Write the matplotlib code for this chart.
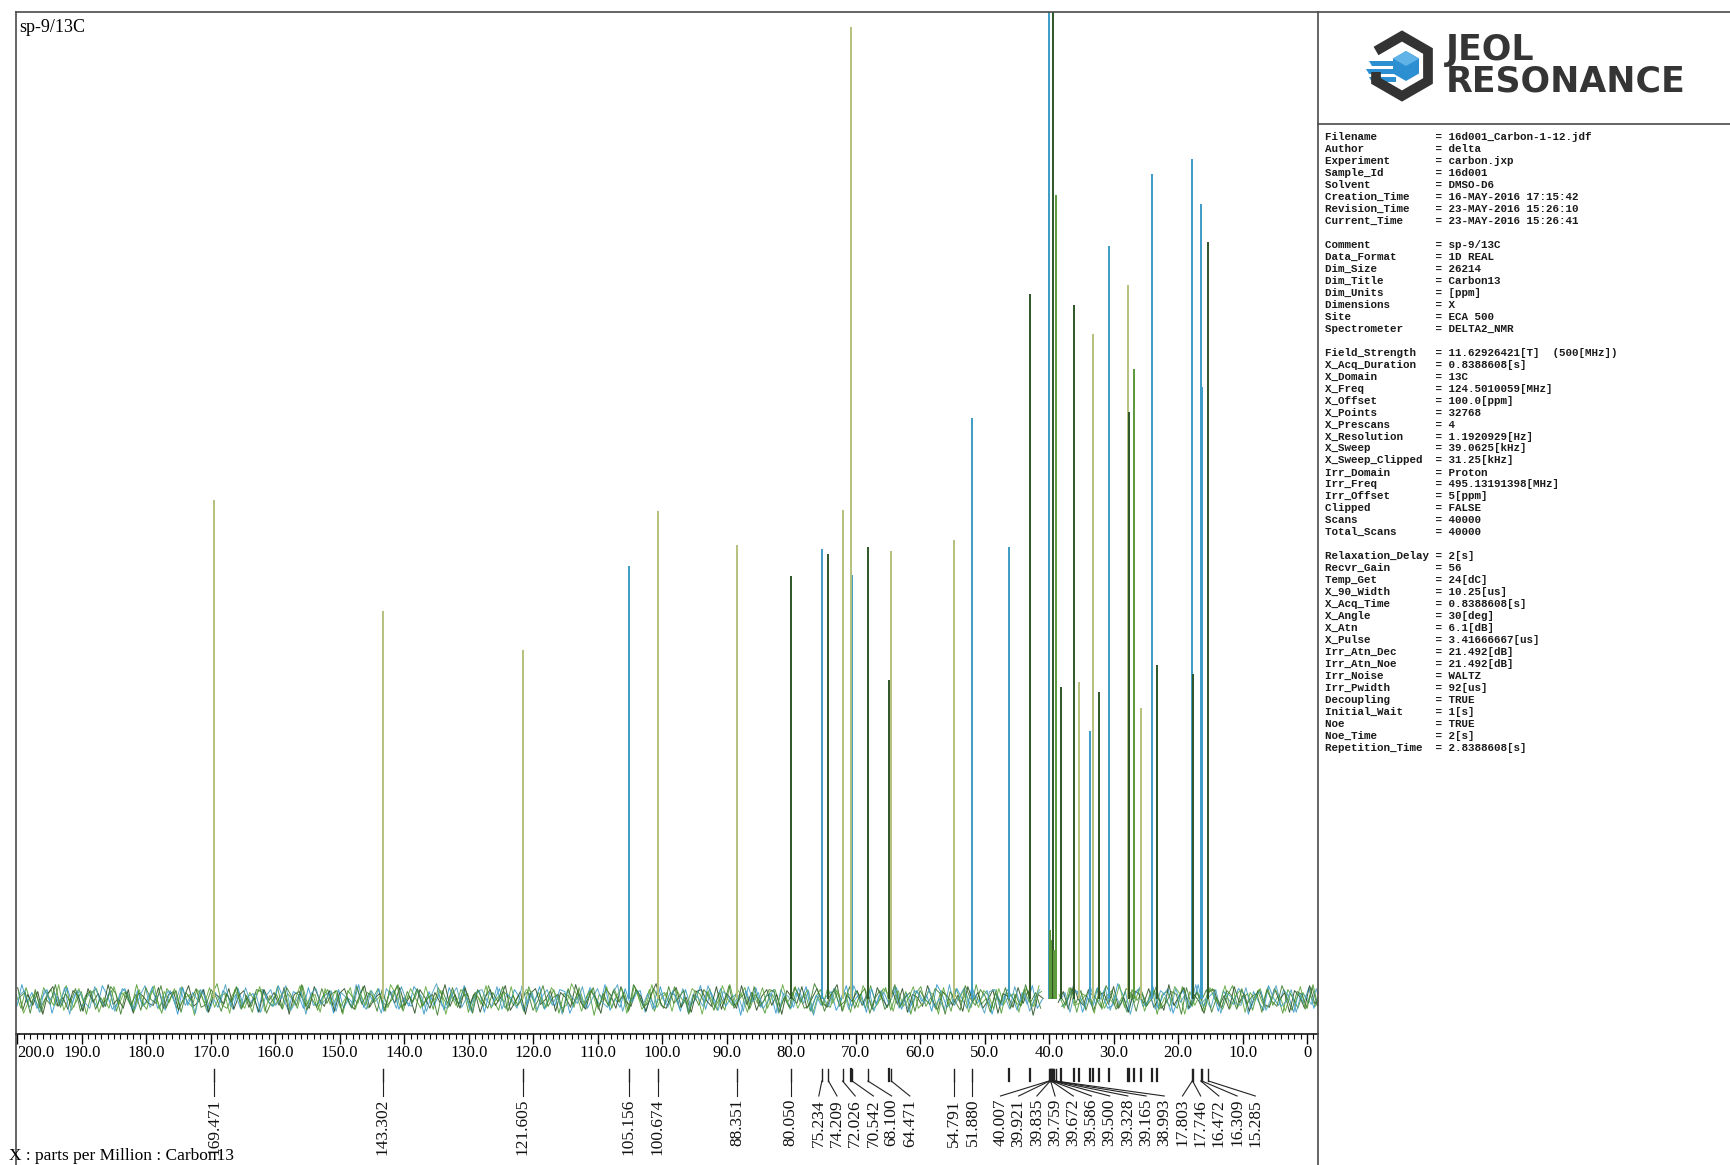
"""JEOL 13C NMR spectrum printout (sp-9/13C, DMSO-D6) redrawn with matplotlib."""

import matplotlib
matplotlib.use('Agg')

import matplotlib.pyplot as plt
import matplotlib.patches as mpatches
from matplotlib.ticker import MultipleLocator
import numpy as np

plt.rcParams['font.family'] = ['Liberation Serif', 'DejaVu Serif']

W, H = 1731, 1165          # output size in pixels (dpi 100)

# --- picked and labelled peaks: ppm, height (fraction of full scale), colour key
LABEL_PPM = [169.471, 143.302, 121.605, 105.156, 100.674, 88.351, 80.050,
             75.234, 74.209, 72.026, 70.542, 68.100, 64.471, 54.791, 51.880,
             40.007, 39.921, 39.835, 39.759, 39.672, 39.586, 39.500, 39.328,
             39.165, 38.993, 17.803, 17.746, 16.472, 16.309, 15.285]
LABEL_HEIGHT = [0.506, 0.393, 0.354, 0.439, 0.495, 0.460, 0.429,
                0.456, 0.451, 0.496, 0.430, 0.458, 0.454, 0.465, 0.589,
                1.300, 0.060, 0.070, 0.050, 0.060, 0.050, 0.060, 1.300,
                0.050, 0.815, 0.851, 0.330, 0.806, 0.620, 0.767]
LABEL_COLOR = 'LLLBLLDBDLBDLLBBGGGGGGDGGBDBBD'

# --- picked peaks shown only by a tick (no number printed)
EXTRA_PPM = [70.70, 64.80, 46.2, 43.0, 38.2, 36.2, 35.3, 33.6, 33.2, 32.2,
             30.7, 27.7, 27.6, 26.8, 25.8, 24.0, 23.2]
EXTRA_HEIGHT = [0.985, 0.323, 0.458, 0.714, 0.316, 0.703, 0.321, 0.272, 0.674,
                0.311, 0.763, 0.724, 0.595, 0.638, 0.295, 0.836, 0.339]
EXTRA_COLOR = 'LDBDDDLBLDBLDGLBD'

# --- baseline noise (thousandths of full scale)
NOISE_MILLI = [
    5, -9, 12, -4, 7, -13, 3, 10, -6, 1, 14, -11, -2, 8, -15, 6, 11, -5, 0, 9,
    -12, 7, 2, -8, 15, -3, -10, 9, 1, -14, 11, 4, -9, 13, -2, -7, 10, 3, -12, 5,
    16, -6, -9, 4, 12, -8, 2, -13, 8, 10, -1, -7, 13, -10, 6, 0, -9, 14, -5, 7,
    -11, 3, 10, -6, 5, -15, 9, 2, -4, 13, -9, 1, 11, -3, -8, 6, 15, -12, 4, -2,
    9, -6, 6, -10, 12, 1, -8, 9, -5, 11, -13, 5, 2, -7, 14, -1, -11, 8, 3, -6,
    4, -12, 13, -2, 7, -9, -1, 10, -14, 6, 3, -8, 12, -4, 9, -16, 5, 1, -7, 11,
    -3, 8, -10, 14, 0, -6, 10, -12, 4, 7, -5, 13, -9, 2, -13, 9, 6, -4, 11, -8,
    1, -11, 15, -6, 3, 12, -9, 5, -2, -14, 8, 10, -7, 4, -10, 13, -3, 6, -12, 2,
    10, -5, -8, 11, -1, 7, -13, 9, 3, -9, 14, -4, 0, 12, -11, 5, -6, 8, -15, 6,
    13, -7, 2, -10, 9, 4, -12, 11, -3, 6, -8, 15, -5, 1, -9, 10, -14, 7, 3, -4,
    -6, 12, -9, 5, 8, -11, 1, 14, -7, -2, 10, -13, 6, 3, -5, 11, -10, 4, 9, -8,
    2, -13, 10, -1, 7, -6, 12, -15, 5, 8, -3, -9, 13, 0, -7, 9, -12, 6, 11, -4,
    -10, 4, 14, -8, 1, 6, -11, 9, -4, 12, -6, 3, -14, 10, 2, -9, 7, -3, 15, -7,
]

XTICKS = list(range(200, -1, -10))
XTICK_LABELS = ['%.1f' % v for v in XTICKS[:-1]] + ['0']

PARAM_KEYS = [
    'Filename', 'Author', 'Experiment', 'Sample_Id', 'Solvent',
    'Creation_Time', 'Revision_Time', 'Current_Time', '',
    'Comment', 'Data_Format', 'Dim_Size', 'Dim_Title', 'Dim_Units',
    'Dimensions', 'Site', 'Spectrometer', '',
    'Field_Strength', 'X_Acq_Duration', 'X_Domain', 'X_Freq', 'X_Offset',
    'X_Points', 'X_Prescans', 'X_Resolution', 'X_Sweep', 'X_Sweep_Clipped',
    'Irr_Domain', 'Irr_Freq', 'Irr_Offset', 'Clipped', 'Scans', 'Total_Scans', '',
    'Relaxation_Delay', 'Recvr_Gain', 'Temp_Get', 'X_90_Width', 'X_Acq_Time',
    'X_Angle', 'X_Atn', 'X_Pulse', 'Irr_Atn_Dec', 'Irr_Atn_Noe', 'Irr_Noise',
    'Irr_Pwidth', 'Decoupling', 'Initial_Wait', 'Noe', 'Noe_Time',
    'Repetition_Time',
]
PARAM_VALUES = [
    '16d001_Carbon-1-12.jdf', 'delta', 'carbon.jxp', '16d001', 'DMSO-D6',
    '16-MAY-2016 17:15:42', '23-MAY-2016 15:26:10', '23-MAY-2016 15:26:41', '',
    'sp-9/13C', '1D REAL', '26214', 'Carbon13', '[ppm]',
    'X', 'ECA 500', 'DELTA2_NMR', '',
    '11.62926421[T]  (500[MHz])', '0.8388608[s]', '13C', '124.5010059[MHz]',
    '100.0[ppm]', '32768', '4', '1.1920929[Hz]', '39.0625[kHz]', '31.25[kHz]',
    'Proton', '495.13191398[MHz]', '5[ppm]', 'FALSE', '40000', '40000', '',
    '2[s]', '56', '24[dC]', '10.25[us]', '0.8388608[s]',
    '30[deg]', '6.1[dB]', '3.41666667[us]', '21.492[dB]', '21.492[dB]', 'WALTZ',
    '92[us]', 'TRUE', '1[s]', 'TRUE', '2[s]',
    '2.8388608[s]',
]

COLORS = {'L': '#b7c07c', 'B': '#3b9cc6', 'D': '#2d5628', 'G': '#5b983a'}
NOISE_COLORS = ['#4f9a36', '#3197cc', '#2a4f24', '#62a83f', '#4aa0c0', '#3f7f2e']
NOISE_ROLLS = [0, 0, 87, 151, 43, 199]
FRAME = '#4a4a4a'


def px_box(x0, y0, x1, y1):
    """Pixel box (top-left origin) -> figure-fraction rect."""
    return [x0 / W, 1 - y1 / H, (x1 - x0) / W, (y1 - y0) / H]


def spread(targets, gap, run_gap):
    """Greedy left-to-right placement, then pull each tight run back
    towards its peaks as far as the previous run allows."""
    s = []
    for t in targets:
        s.append(t if not s else max(t, s[-1] + gap))
    runs = []
    for i in range(len(s)):
        if i > 0 and s[i] - s[i - 1] <= gap + 1e-6:
            runs[-1].append(i)
        else:
            runs.append([i])
    prev_end = -1e9
    for run in runs:
        shift = np.mean([s[i] - targets[i] for i in run])
        room = s[run[0]] - (prev_end + run_gap)
        shift = max(0.0, min(shift, room))
        for i in run:
            s[i] -= shift
        prev_end = s[run[-1]]
    return s


def draw_spectrum(ax):
    ax.set_xlim(200.2, -1.7)
    ax.set_ylim(-0.035, 1.0)

    noise = np.array(NOISE_MILLI, dtype=float) / 1000.0
    xs = np.linspace(200.2, -1.7, len(noise))
    step = xs[0] - xs[1]
    n = len(NOISE_COLORS)
    for k, (roll, col) in enumerate(zip(NOISE_ROLLS, NOISE_COLORS)):
        tr = noise if k % 2 == 0 else noise[::-1]
        x = xs - k * step / n
        y = np.roll(tr, roll)
        y[(x > 38.6) & (x < 40.8)] = np.nan     # broad solvent foot
        ax.plot(x, y, color=col, lw=0.7, alpha=0.9, zorder=1)

    ppm = LABEL_PPM + EXTRA_PPM
    hgt = LABEL_HEIGHT + EXTRA_HEIGHT
    col = [COLORS[c] for c in LABEL_COLOR + EXTRA_COLOR]
    ax.vlines(ppm, 0, hgt, colors=col, lw=1.4, zorder=2)

    for s in ('top', 'left', 'right'):
        ax.spines[s].set_visible(False)
    ax.spines['bottom'].set_linewidth(1.1)
    ax.set_yticks([])
    ax.set_xticks(XTICKS)
    labels = ax.set_xticklabels(XTICK_LABELS)
    labels[0].set_horizontalalignment('left')
    ax.xaxis.set_minor_locator(MultipleLocator(1))
    ax.tick_params(axis='x', which='major', direction='out', length=7,
                   width=1.0, pad=1, labelsize=12)
    ax.tick_params(axis='x', which='minor', direction='out', length=3.5,
                   width=0.8)
    ax.patch.set_alpha(0)


def draw_peak_labels(ax, ov):
    def to_px(v):
        return ax.transData.transform((v, 0))[0]

    lab_px = [to_px(v) for v in LABEL_PPM]
    slots = spread(lab_px, 18.2, 28)
    for p, s, v in zip(lab_px, slots, LABEL_PPM):
        ov.plot([p, p], [1069, 1081], color='#222222', lw=1.0)
        ov.plot([p, s], [1081, 1096], color='#222222', lw=0.8)
        ov.text(s, 1099, '%.3f' % v, rotation=90, ha='center', va='top',
                fontsize=12.5, color='#111111')
    for v in EXTRA_PPM:
        p = to_px(v)
        ov.plot([p, p], [1069, 1081], color='#222222', lw=1.6)


def draw_logo(ov):
    cx, cy, r = 1402, 66, 30
    ang = np.radians([150, 90, 30, -30, -90, -150])
    vx = cx + r * np.cos(ang)
    vy = cy - r * np.sin(ang)
    # open hexagon outline (gap on the left where the stripes exit)
    xs = [vx[0]] + list(vx[1:]) + [vx[5], vx[5]]
    ys = [vy[0]] + list(vy[1:]) + [vy[5], cy + 6]
    ov.plot(xs, ys, color='#333333', lw=7, solid_joinstyle='miter',
            solid_capstyle='butt')
    ov.add_patch(mpatches.RegularPolygon((cx + 4, cy), 6, radius=15,
                                         facecolor='#2c8fd2', edgecolor='none'))
    ov.add_patch(mpatches.Polygon([[cx + 4, cy - 15], [cx + 17, cy - 7.5],
                                   [cx + 4, cy], [cx - 9, cy - 7.5]],
                                  facecolor='#5fb3e6', edgecolor='none'))
    for dy, x0 in zip((-5, 3, 11), (cx - 33, cx - 36, cx - 33)):
        ov.add_patch(mpatches.Polygon([[x0, cy + dy], [cx - 6, cy + dy],
                                       [cx - 6, cy + dy + 5], [x0 + 3, cy + dy + 5]],
                                      facecolor='#2c8fd2', edgecolor='none'))
    ov.text(1446, 50, 'JEOL', fontsize=25, fontweight='bold', color='#353535',
            family='DejaVu Sans', va='center', ha='left')
    ov.text(1446, 82, 'RESONANCE', fontsize=25, fontweight='bold',
            color='#353535', family='DejaVu Sans', va='center', ha='left')


def draw_params(ov):
    for i, (k, v) in enumerate(zip(PARAM_KEYS, PARAM_VALUES)):
        if not k:
            continue
        ov.text(1325, 137 + i * 11.98, '%-16s = %s' % (k, v),
                family='Liberation Mono', fontsize=7.8, fontweight='bold',
                color='#1a1a1a', va='center', ha='left')


def main():
    fig = plt.figure(figsize=(W / 100, H / 100), dpi=100)
    fig.patch.set_facecolor('white')

    ax = fig.add_axes(px_box(16, 12, 1318, 1034))
    draw_spectrum(ax)

    ov = fig.add_axes([0, 0, 1, 1])
    ov.set_xlim(0, W)
    ov.set_ylim(H, 0)
    ov.axis('off')
    ov.patch.set_alpha(0)

    # page frame
    ov.plot([16, W], [12, 12], color=FRAME, lw=1.2)
    ov.plot([16, 16], [12, H], color=FRAME, lw=1.2)
    ov.plot([1318, 1318], [12, H], color=FRAME, lw=1.2)
    ov.plot([1318, W], [124, 124], color=FRAME, lw=1.2)

    ov.text(19, 28, 'sp-9/13C', fontsize=13, va='center', ha='left')
    ov.text(9, 1156, 'X : parts per Million : Carbon13', fontsize=12.5,
            va='center', ha='left')

    draw_peak_labels(ax, ov)
    draw_logo(ov)
    draw_params(ov)

    fig.savefig('out.png', dpi=100, facecolor='white')
    plt.close(fig)


if __name__ == '__main__':
    main()
